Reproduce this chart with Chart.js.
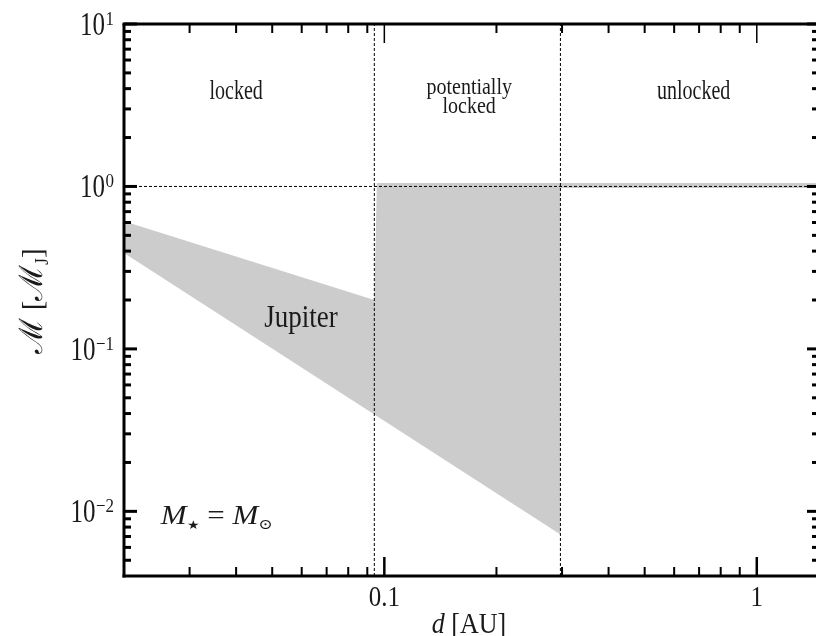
<!DOCTYPE html>
<html>
<head>
<meta charset="utf-8">
<script src="https://cdn.jsdelivr.net/npm/chart.js@4.4.1/dist/chart.umd.min.js"></script>
<style>
  html, body { margin: 0; padding: 0; background: #fff; overflow: hidden; }
  #wrap { width: 820px; height: 636px; }
</style>
</head>
<body>
<div id="wrap"><canvas id="grafico" width="820" height="636"></canvas></div>
<script>
// zona sombreada (d en UA, masa en M_J), recorrida como un poligono cerrado
const regionD = [0.02, 0.094, 0.0955, 1.46, 1.46, 0.297, 0.297, 0.02];
const regionM = [0.61, 0.20, 1.05, 1.05, 0.98, 0.98, 0.0072, 0.39];

// limites entre regimenes
const limitD = [0.094, 0.297];
const limitM = [1, 1];

const xRange = [0.02, 1.46];
const yRange = [0.004, 10];

const xMajor = [0.1, 1];
const xLabels = ['0.1', '1'];
const yMajor = [10, 1, 0.1, 0.01];
const yExp = ['1', '0', '\u22121', '\u22122'];

const regionNames = [['locked'], ['potentially', 'locked'], ['unlocked']];
const regionNameD = [0.04, 0.169, 0.677];

const SERIF = '"Liberation Serif", "DejaVu Serif", serif';
const TXT = '#1a1a1a';

function pts(xs, ys) { return xs.map((v, i) => ({ x: v, y: ys[i] })); }

function minors(min, max) {
    const out = [];
    for (let e = Math.floor(Math.log10(min)); e <= Math.ceil(Math.log10(max)); e++) {
        for (let m = 2; m <= 9; m++) {
            const v = m * Math.pow(10, e);
            if (v > min * 1.001 && v < max * 0.999) out.push(v);
        }
    }
    return out;
}

function texto(ctx, txt, x, y, size, sy, align, style) {
    ctx.save();
    ctx.font = (style || '') + ' ' + size + 'px ' + SERIF;
    ctx.textAlign = align || 'left';
    ctx.textBaseline = 'alphabetic';
    ctx.translate(x, y);
    ctx.scale(1, sy);
    ctx.fillText(txt, 0, 0);
    ctx.restore();
}

function ancho(ctx, txt, size, style) {
    ctx.save();
    ctx.font = (style || '') + ' ' + size + 'px ' + SERIF;
    const w = ctx.measureText(txt).width;
    ctx.restore();
    return w;
}

function linea(ctx, x1, y1, x2, y2, w) {
    ctx.lineWidth = w;
    ctx.beginPath();
    ctx.moveTo(x1, y1);
    ctx.lineTo(x2, y2);
    ctx.stroke();
}

const marcoPlugin = {
    id: 'marco',
    afterDraw(chart) {
        const { ctx, chartArea: a, scales: { x, y } } = chart;
        ctx.save();
        ctx.strokeStyle = '#000';
        ctx.lineCap = 'butt';

        // marcas menores
        minors(xRange[0], xRange[1]).forEach(v => {
            const px = x.getPixelForValue(v);
            linea(ctx, px, a.bottom, px, a.bottom - 9, 2);
            linea(ctx, px, a.top, px, a.top + 9, 2);
        });
        minors(yRange[0], yRange[1]).forEach(v => {
            const py = y.getPixelForValue(v);
            linea(ctx, a.left, py, a.left + 7, py, 3);
            linea(ctx, a.right, py, a.right - 6, py, 3);
        });
        // marcas mayores
        xMajor.forEach(v => {
            const px = x.getPixelForValue(v);
            linea(ctx, px, a.bottom, px, a.bottom - 19, 2.5);
            linea(ctx, px, a.top, px, a.top + 19, 1.5);
        });
        yMajor.forEach(v => {
            const py = y.getPixelForValue(v);
            linea(ctx, a.left, py, a.left + 13, py, 3);
            linea(ctx, a.right, py, a.right - 11, py, 3);
        });
        // ejes (el derecho queda fuera del cuadro)
        linea(ctx, a.left, a.top, a.left, a.bottom + 1.5, 3);
        linea(ctx, a.left - 1.5, a.bottom, a.right, a.bottom, 3);
        linea(ctx, a.left - 1.5, a.top, a.right, a.top, 3);

        ctx.fillStyle = TXT;
        // etiquetas eje y
        yMajor.forEach((v, i) => {
            const py = y.getPixelForValue(v);
            const ew = ancho(ctx, yExp[i], 17);
            texto(ctx, yExp[i], 114, py + 1, 17, 1.15, 'right');
            texto(ctx, '10', 114 - ew - 0.5, py + 11, 25, 1.33, 'right');
        });
        // etiquetas eje x
        xMajor.forEach((v, i) => {
            texto(ctx, xLabels[i], x.getPixelForValue(v), 606, 25, 1.15, 'center');
        });
        // titulo eje x
        const wd = ancho(ctx, 'd', 26, 'italic');
        const wr = ancho(ctx, ' [AU]', 26);
        const x0 = 469 - (wd + wr) / 2;
        texto(ctx, 'd', x0, 633, 26, 1.15, 'left', 'italic');
        texto(ctx, ' [AU]', x0 + wd, 633, 26, 1.15, 'left');

        // titulo eje y (rotado)
        ctx.save();
        ctx.translate(42, 301);
        ctx.rotate(-Math.PI / 2);
        const partes = [['\u2133', 31, 0], [' [', 29, 0], ['\u2133', 31, 0], ['J', 17, 6], [']', 29, 0]];
        const tot = partes.reduce((s, p) => s + ancho(ctx, p[0], p[1]), 0);
        let cx = -tot / 2;
        partes.forEach(p => {
            texto(ctx, p[0], cx, p[2], p[1], 1.05, 'left');
            cx += ancho(ctx, p[0], p[1]);
        });
        ctx.restore();

        // nombres de regiones
        regionNames.forEach((lines, i) => {
            const px = x.getPixelForValue(regionNameD[i]);
            if (lines.length === 1) {
                texto(ctx, lines[0], px, 99, 20, 1.37, 'center');
            } else {
                texto(ctx, lines[0], px, 94, 20, 1.2, 'center');
                texto(ctx, lines[1], px, 113, 20, 1.2, 'center');
            }
        });

        // Jupiter
        texto(ctx, 'Jupiter', x.getPixelForValue(0.0597), 327, 27, 1.2, 'center');

        // M_star = M_sun
        let mx = x.getPixelForValue(0.0251);
        const mb = 524;
        const seq = [['M', 31, 0, 'italic'], ['\u2605', 14, 5, ''], [' = ', 31, 0, ''], ['M', 31, 0, 'italic'], ['\u2299', 17, 5, '']];
        seq.forEach(p => {
            texto(ctx, p[0], mx, mb + p[2], p[1], 0.85, 'left', p[3]);
            mx += ancho(ctx, p[0], p[1], p[3]);
        });

        ctx.restore();
    }
};

const dash = { borderColor: '#000', borderWidth: 1, borderDash: [3, 2], showLine: true, pointRadius: 0, fill: false };

new Chart(document.getElementById('grafico'), {
    type: 'scatter',
    data: {
        datasets: [
            Object.assign({ data: pts([limitD[0], limitD[0]], yRange) }, dash),
            Object.assign({ data: pts([limitD[1], limitD[1]], yRange) }, dash),
            Object.assign({ data: pts(xRange, limitM) }, dash),
            {
                data: pts(regionD, regionM),
                showLine: true,
                pointRadius: 0,
                borderWidth: 0,
                borderColor: 'rgba(0,0,0,0)',
                backgroundColor: '#cccccc',
                fill: 'shape'
            }
        ]
    },
    options: {
        responsive: false,
        animation: false,
        layout: { padding: { top: 24, left: 0, right: 2, bottom: 0 } },
        plugins: { legend: { display: false }, tooltip: { enabled: false } },
        scales: {
            x: {
                type: 'logarithmic', min: xRange[0], max: xRange[1],
                grid: { display: false }, border: { display: false }, ticks: { display: false },
                afterFit(s) { s.height = 60; }
            },
            y: {
                type: 'logarithmic', min: yRange[0], max: yRange[1],
                grid: { display: false }, border: { display: false }, ticks: { display: false },
                afterFit(s) { s.width = 124; }
            }
        }
    },
    plugins: [marcoPlugin]
});
</script>
</body>
</html>
